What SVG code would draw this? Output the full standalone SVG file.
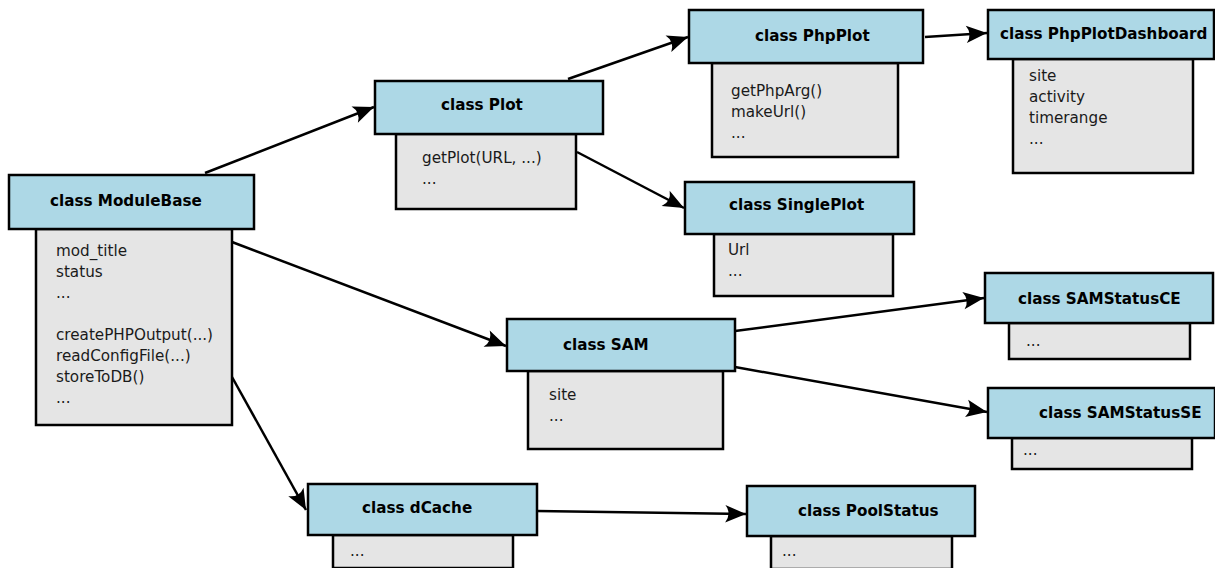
<svg xmlns="http://www.w3.org/2000/svg" width="1215" height="568" viewBox="0 0 1215 568">
  <style>
    .hd { fill: #add8e6; stroke: #000; stroke-width: 2.5; }
    .bd { fill: #e5e5e5; stroke: #000; stroke-width: 2.5; }
    .title { font-family: "DejaVu Sans", sans-serif; font-size: 15.2px; font-weight: bold; fill: #000; }
    .item { font-family: "DejaVu Sans", sans-serif; font-size: 15.2px; fill: #1a1a1a; }
    .edge { fill: none; stroke: #000; stroke-width: 2.5; marker-end: url(#arrow); }
  </style>
  <defs>
    <marker id="arrow" markerUnits="userSpaceOnUse" markerWidth="24" markerHeight="24" viewBox="-20 -10 22 20" refX="0" refY="0" orient="auto">
      <path d="M0,0 L-19,-8 Q-13,0 -19,8 Z" fill="#000"/>
    </marker>
  </defs>
  <rect width="1215" height="568" fill="#fff"/>

  <g id="connectors">
    <line class="edge" x1="205" y1="173" x2="374" y2="107"/>
    <line class="edge" x1="568" y1="79" x2="688" y2="37"/>
    <line class="edge" x1="925" y1="37" x2="987" y2="33"/>
    <line class="edge" x1="577" y1="152" x2="684" y2="208"/>
    <line class="edge" x1="232" y1="242" x2="506" y2="346"/>
    <line class="edge" x1="735" y1="331" x2="984" y2="298"/>
    <line class="edge" x1="735" y1="367" x2="987" y2="412"/>
    <line class="edge" x1="232" y1="377" x2="306" y2="510"/>
    <line class="edge" x1="537" y1="511" x2="746" y2="514"/>
  </g>

  <g id="ModuleBase">
    <rect class="bd" x="36" y="229" width="196" height="196"/>
    <rect class="hd" x="9" y="175" width="245" height="54"/>
    <text class="title" x="50" y="206">class ModuleBase</text>
    <text class="item" x="56" y="256">mod_title</text>
    <text class="item" x="56" y="277">status</text>
    <text class="item" x="56" y="298">...</text>
    <text class="item" x="56" y="340">createPHPOutput(...)</text>
    <text class="item" x="56" y="361">readConfigFile(...)</text>
    <text class="item" x="56" y="382">storeToDB()</text>
    <text class="item" x="56" y="403">...</text>
  </g>

  <g id="Plot">
    <rect class="bd" x="396" y="134" width="180" height="75"/>
    <rect class="hd" x="375" y="81" width="228" height="53"/>
    <text class="title" x="441" y="110">class Plot</text>
    <text class="item" x="422" y="163">getPlot(URL, ...)</text>
    <text class="item" x="422" y="184">...</text>
  </g>

  <g id="PhpPlot">
    <rect class="bd" x="712" y="63" width="186" height="94"/>
    <rect class="hd" x="689" y="10" width="234" height="53"/>
    <text class="title" x="755" y="41">class PhpPlot</text>
    <text class="item" x="731" y="96">getPhpArg()</text>
    <text class="item" x="731" y="117">makeUrl()</text>
    <text class="item" x="731" y="138">...</text>
  </g>

  <g id="PhpPlotDashboard">
    <rect class="bd" x="1013" y="59" width="180" height="114"/>
    <rect class="hd" x="988" y="10" width="226" height="49"/>
    <text class="title" x="1000" y="39">class PhpPlotDashboard</text>
    <text class="item" x="1029" y="81">site</text>
    <text class="item" x="1029" y="102">activity</text>
    <text class="item" x="1029" y="123">timerange</text>
    <text class="item" x="1029" y="144">...</text>
  </g>

  <g id="SinglePlot">
    <rect class="bd" x="714" y="234" width="179" height="62"/>
    <rect class="hd" x="685" y="182" width="229" height="52"/>
    <text class="title" x="729" y="210">class SinglePlot</text>
    <text class="item" x="728" y="255">Url</text>
    <text class="item" x="728" y="276">...</text>
  </g>

  <g id="SAM">
    <rect class="bd" x="528" y="371" width="195" height="78"/>
    <rect class="hd" x="507" y="319" width="228" height="52"/>
    <text class="title" x="563" y="350">class SAM</text>
    <text class="item" x="549" y="400">site</text>
    <text class="item" x="549" y="421">...</text>
  </g>

  <g id="SAMStatusCE">
    <rect class="bd" x="1009" y="323" width="181" height="36"/>
    <rect class="hd" x="985" y="273" width="228" height="50"/>
    <text class="title" x="1018" y="304">class SAMStatusCE</text>
    <text class="item" x="1026" y="346">...</text>
  </g>

  <g id="SAMStatusSE">
    <rect class="bd" x="1012" y="438" width="180" height="31"/>
    <rect class="hd" x="988" y="388" width="227" height="50"/>
    <text class="title" x="1039" y="418">class SAMStatusSE</text>
    <text class="item" x="1023" y="455">...</text>
  </g>

  <g id="dCache">
    <rect class="bd" x="333" y="535" width="180" height="33"/>
    <rect class="hd" x="308" y="484" width="229" height="51"/>
    <text class="title" x="362" y="513">class dCache</text>
    <text class="item" x="350" y="556">...</text>
  </g>

  <g id="PoolStatus">
    <rect class="bd" x="771" y="536" width="181" height="33"/>
    <rect class="hd" x="747" y="486" width="228" height="50"/>
    <text class="title" x="798" y="516">class PoolStatus</text>
    <text class="item" x="782" y="556">...</text>
  </g>
</svg>
